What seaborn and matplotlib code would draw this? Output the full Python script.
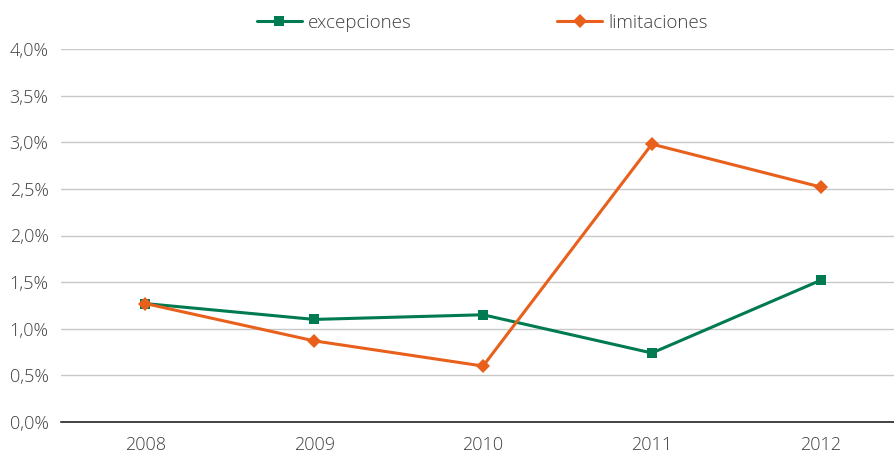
import pandas as pd
import seaborn as sns
import matplotlib.pyplot as plt
from matplotlib.ticker import FuncFormatter

# data
years = ["2008", "2009", "2010", "2011", "2012"]
excepciones = [1.27, 1.10, 1.15, 0.74, 1.52]
limitaciones = [1.27, 0.87, 0.60, 2.98, 2.52]

df = pd.DataFrame({"year": years * 2,
                   "valor": excepciones + limitaciones,
                   "serie": ["excepciones"] * 5 + ["limitaciones"] * 5})

sns.set_style("white")
plt.rcParams["font.family"] = ["Open Sans", "DejaVu Sans"]
plt.rcParams["font.weight"] = "light"

fig = plt.figure(figsize=(8.95, 4.57), dpi=100)
ax = fig.add_axes([61 / 895, 35 / 457, 1 - 61 / 895, 373 / 457])

colors = {"excepciones": "#007A50", "limitaciones": "#E8601C"}
sns.lineplot(data=df, x="year", y="valor", hue="serie", style="serie",
             palette=colors, markers={"excepciones": "s", "limitaciones": "D"},
             dashes=False, linewidth=2.2, markersize=7, markeredgewidth=0,
             sort=False, ax=ax)

ax.set_xlim(-0.5, 4.44)
ax.set_ylim(0, 4.0)
ax.set_yticks([i * 0.5 for i in range(9)])
ax.yaxis.set_major_formatter(FuncFormatter(lambda v, p: f"{v:.1f}%".replace(".", ",")))
ax.grid(axis="y", color="#c8c8c8", linewidth=1)
ax.set_axisbelow(True)
for s in ["top", "right", "left"]:
    ax.spines[s].set_visible(False)
ax.spines["bottom"].set_color("#111111")
ax.spines["bottom"].set_linewidth(1.1)
ax.tick_params(axis="both", length=0, labelsize=13, labelcolor="#404040")
ax.tick_params(axis="x", pad=10)
ax.tick_params(axis="y", pad=9)
ax.set_xlabel("")
ax.set_ylabel("")

ax.legend(loc="center", bbox_to_anchor=(0.505, 1.07), ncol=2, frameon=False,
          fontsize=13.5, labelcolor="#404040", columnspacing=7.8, handlelength=2.4,
          handletextpad=0.3)

fig.savefig("out.png", dpi=100)
